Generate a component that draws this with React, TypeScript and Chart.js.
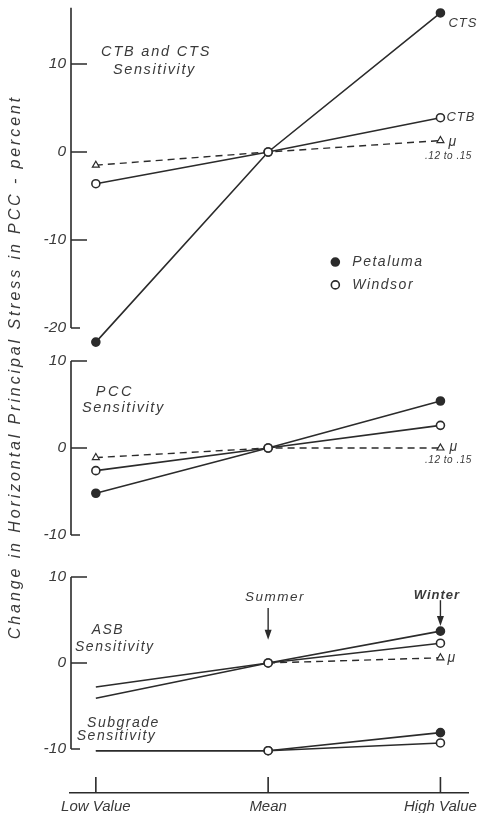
import React, { useEffect, useRef } from "react";
import { Chart, registerables } from "chart.js";
Chart.register(...registerables);

// ---- categories / x ----
const categories = ["Low Value", "Mean", "High Value"];
const xIndex = [0, 1, 2];

// ---- Panel 1: CTB and CTS sensitivity ----
const ctsPetaluma = [-21.6, 0, 15.8];
const ctbWindsor = [-3.6, 0, 3.9];
const ctMu = [-1.5, 0, 1.3];

// ---- Panel 2: PCC sensitivity ----
const pccPetaluma = [-5.2, 0, 5.4];
const pccWindsor = [-2.6, 0, 2.6];
const pccMu = [-1.1, 0, 0];

// ---- Panel 3: ASB and subgrade sensitivity ----
const asbPetaluma = [-4.1, 0, 3.7];
const asbWindsor = [-2.8, 0, 2.3];
const asbMu = [null, 0, 0.6];
const subgradePetaluma = [-10.2, -10.2, -8.1];
const subgradeWindsor = [-10.2, -10.2, -9.3];

// ---- tick labels ----
const panel1Ticks = [10, 0, -10, -20];
const panel2Ticks = [10, 0, -10];
const panel3Ticks = [10, 0, -10];
const axisTops = [16.4, 10, 10];
const axisBottoms = [-20, -10, -10];

const INK = "#2b2b2b";
const TEXT = "#3a3a3a";
const FAMILY = '"Liberation Sans", "DejaVu Sans", sans-serif';

const pts = (vals: (number | null)[]) => vals.map((v, i) => ({ x: xIndex[i], y: v }));

function series(label: string, vals: (number | null)[], axis: string, kind: "pet" | "win" | "mu", radii: number[]) {
  const base: any = {
    label,
    data: pts(vals),
    yAxisID: axis,
    borderColor: INK,
    borderWidth: 1.6,
    pointRadius: radii,
    pointHoverRadius: radii,
    pointBorderColor: INK,
    pointBorderWidth: 1.6,
    clip: false,
    spanGaps: false,
  };
  if (kind === "pet") {
    base.pointBackgroundColor = INK;
  } else if (kind === "win") {
    base.pointBackgroundColor = "#ffffff";
  } else {
    base.pointBackgroundColor = "#ffffff";
    base.pointStyle = "triangle";
    base.borderDash = [7, 5];
    base.borderWidth = 1.4;
    base.pointBorderWidth = 1.2;
  }
  return base;
}

const annotate = {
  id: "annotate",
  afterDraw(chart: any) {
    const ctx: CanvasRenderingContext2D = chart.ctx;
    const xs = chart.scales.x;
    const ca = chart.chartArea;
    const X = (v: number) => xs.getPixelForValue(v);
    const Y = (id: string, v: number) => chart.scales[id].getPixelForValue(v);
    ctx.save();
    ctx.strokeStyle = INK;
    ctx.lineWidth = 1.6;
    // y axis segments
    const ids = ["y1", "y2", "y3"];
    const tickSets = [panel1Ticks, panel2Ticks, panel3Ticks];
    ids.forEach((id, k) => {
      const ax = ca.left + 1;
      ctx.beginPath();
      ctx.moveTo(ax, Y(id, axisTops[k]));
      ctx.lineTo(ax, Y(id, axisBottoms[k]));
      tickSets[k].forEach((t) => {
        const py = Y(id, t);
        ctx.moveTo(ax, py);
        ctx.lineTo(ax + (t === axisBottoms[k] ? 9 : 16), py);
      });
      ctx.stroke();
    });
    // x tick marks (upward)
    ctx.beginPath();
    xIndex.forEach((i) => {
      const px = X(i);
      ctx.moveTo(px, ca.bottom);
      ctx.lineTo(px, ca.bottom - 16);
    });
    ctx.stroke();

    const text = (s: string, x: number, y: number, size = 14, align: CanvasTextAlign = "center", weight = "normal", spacing = 1.5) => {
      ctx.font = `italic ${weight} ${size}px ${FAMILY}`;
      (ctx as any).letterSpacing = `${spacing}px`;
      ctx.fillStyle = TEXT;
      ctx.textAlign = align;
      ctx.textBaseline = "middle";
      ctx.fillText(s, x, y);
    };

    // Panel 1
    text("CTB and CTS", X(0.35), Y("y1", 11.4), 14.5, "center", "normal", 1.8);
    text("Sensitivity", X(0.34), Y("y1", 9.3), 14.5, "center", "normal", 1.6);
    text("CTS", X(2) + 8, Y("y1", 14.6), 13, "left", "normal", 1);
    text("CTB", X(2) + 6, Y("y1", 3.9), 13, "left", "normal", 1);
    text("μ", X(2) + 8, Y("y1", 1.1), 14, "left", "normal", 0);
    text(".12 to .15", X(2) + 8, Y("y1", -0.5), 10, "center", "normal", 0.5);
    // legend
    const lx = X(1.39);
    [["Petaluma", -12.5, INK], ["Windsor", -15.1, "#ffffff"]].forEach(([lab, v, fill]) => {
      const py = Y("y1", v as number);
      ctx.beginPath();
      ctx.arc(lx, py, 4, 0, Math.PI * 2);
      ctx.fillStyle = fill as string;
      ctx.fill();
      ctx.lineWidth = 1.6;
      ctx.stroke();
      text(lab as string, lx + 17, py, 14, "left", "normal", 1.5);
    });

    // Panel 2
    text("PCC", X(0.11), Y("y2", 6.4), 14.5, "center", "normal", 2.5);
    text("Sensitivity", X(0.16), Y("y2", 4.6), 14.5, "center", "normal", 1.6);
    text("μ", X(2) + 9, Y("y2", 0.1), 14, "left", "normal", 0);
    text(".12 to .15", X(2) + 8, Y("y2", -1.4), 10, "center", "normal", 0.5);

    // Panel 3
    text("ASB", X(0.07), Y("y3", 3.8));
    text("Sensitivity", X(0.11), Y("y3", 1.9));
    text("Subgrade", X(0.16), Y("y3", -7.0));
    text("Sensitivity", X(0.12), Y("y3", -8.5));
    text("μ", X(2) + 7, Y("y3", 0.6), 14, "left", "normal", 0);
    text("Summer", X(1.04), Y("y3", 7.7), 13.5);
    text("Winter", X(1.98), Y("y3", 7.9), 13, "center", "bold", 1);

    const arrow = (x: number, y0: number, y1: number) => {
      ctx.strokeStyle = INK;
      ctx.fillStyle = INK;
      ctx.lineWidth = 1.4;
      ctx.beginPath();
      ctx.moveTo(x, y0);
      ctx.lineTo(x, y1 - 8);
      ctx.stroke();
      ctx.beginPath();
      ctx.moveTo(x - 3.5, y1 - 10);
      ctx.lineTo(x + 3.5, y1 - 10);
      ctx.lineTo(x, y1);
      ctx.closePath();
      ctx.fill();
    };
    arrow(X(1), Y("y3", 6.4), Y("y3", 2.7));
    arrow(X(2), Y("y3", 7.3), Y("y3", 4.3));

    // y axis title
    ctx.save();
    ctx.translate(16, 367);
    ctx.rotate(-Math.PI / 2);
    text("Change in Horizontal Principal Stress in PCC - percent", 0, 0, 16, "center", "normal", 2.9);
    ctx.restore();

    ctx.restore();
  },
};

function yScale(min: number, max: number, weight: number, ticks: number[]) {
  return {
    type: "linear",
    position: "left",
    stack: "panels",
    stackWeight: weight,
    min,
    max,
    grid: { display: false, drawTicks: false },
    border: { display: false },
    afterFit: (s: any) => {
      s.width = 70;
      s.paddingTop = 0;
      s.paddingBottom = 0;
    },
    afterBuildTicks: (s: any) => {
      s.ticks = ticks.map((v) => ({ value: v }));
    },
    ticks: {
      padding: 4,
      color: TEXT,
      font: { family: FAMILY, size: 15.5, style: "italic" },
      callback: (v: any) => String(v),
    },
  };
}

export default function App() {
  const ref = useRef<HTMLCanvasElement | null>(null);
  useEffect(() => {
    if (!ref.current) return;
    const chart = new Chart(ref.current, {
      type: "line",
      data: {
        datasets: [
          series("CTB Windsor", ctbWindsor, "y1", "win", [4, 4, 4]),
          series("CTS Petaluma", ctsPetaluma, "y1", "pet", [4, 4, 4]),
          series("μ", ctMu, "y1", "mu", [4, 0, 4]),
          series("PCC Windsor", pccWindsor, "y2", "win", [4, 4, 4]),
          series("PCC Petaluma", pccPetaluma, "y2", "pet", [4, 4, 4]),
          series("PCC μ", pccMu, "y2", "mu", [4, 0, 4]),
          series("ASB Windsor", asbWindsor, "y3", "win", [0, 4, 4]),
          series("ASB Petaluma", asbPetaluma, "y3", "pet", [0, 4, 4]),
          series("ASB μ", asbMu, "y3", "mu", [0, 0, 4]),
          series("Subgrade Windsor", subgradeWindsor, "y3", "win", [0, 4, 4]),
          series("Subgrade Petaluma", subgradePetaluma, "y3", "pet", [0, 4, 4]),
        ],
      },
      options: {
        animation: false,
        responsive: false,
        layout: { autoPadding: false, padding: { left: 0, right: 15, top: 0, bottom: 0 } },
        plugins: { legend: { display: false }, tooltip: { enabled: false } },
        scales: {
          x: {
            type: "linear",
            min: -0.15,
            max: 2.16,
            grid: { display: false, drawTicks: false },
            border: { display: true, color: INK, width: 1.6 },
            afterFit: (s: any) => {
              s.height = 20;
            },
            afterBuildTicks: (s: any) => {
              s.ticks = xIndex.map((v) => ({ value: v }));
            },
            ticks: {
              padding: 5,
              color: TEXT,
              font: { family: FAMILY, size: 15, style: "italic" },
              callback: (v: any) => categories[Math.round(Number(v))] ?? "",
            },
          },
          y3: yScale(-15.12, 12.44, 237, panel3Ticks),
          y2: yScale(-12.41, 12.41, 216, panel2Ticks),
          y1: yScale(-21.36, 17.27, 340, panel1Ticks),
        } as any,
      } as any,
      plugins: [annotate],
    });
    return () => chart.destroy();
  }, []);
  return (
    <div style={{ position: "absolute", left: 0, top: 0, width: 483, height: 813, background: "#fff" }}>
      <canvas ref={ref} width={483} height={813} style={{ display: "block" }} />
    </div>
  );
}
